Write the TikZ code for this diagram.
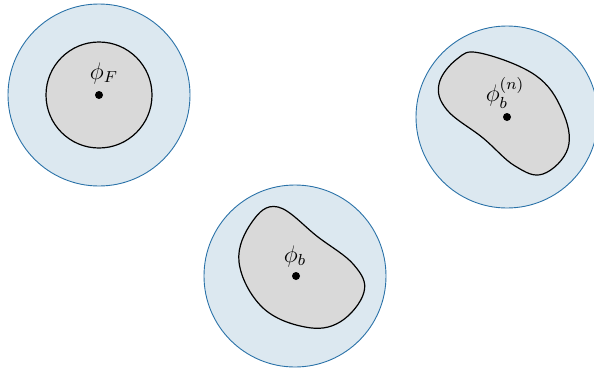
\documentclass[tikz,border=0pt]{standalone}
\usepackage{amsmath}
\usepackage{tikz}
\usetikzlibrary{positioning}
\usepackage{xcolor}
\definecolor{ballfill}{HTML}{DCE8F0}
\definecolor{balldraw}{HTML}{2A72A8}
\definecolor{setfill}{HTML}{D9D9D9}

\begin{document}
\begin{tikzpicture}[x=0.5pt, y=-0.5pt, every node/.style={font=\large}]
  \tikzstyle{ball} = [circle, minimum size=91pt, inner sep=0pt, draw=balldraw, fill=ballfill, line width=0.45pt]
  \tikzstyle{region} = [draw=black, fill=setfill, line width=0.6pt]
  \tikzstyle{centre} = [circle, fill=black, minimum size=4pt, inner sep=0pt]

  \useasboundingbox (0,0) rectangle (594,370);

  % outer balls
  \node (ballF) [ball] at (99,95) {};
  \node (ballB) [ball] at (295,276) {};
  \node (ballN) [ball] at (507,117) {};

  % inner sets
  \node (setF) [circle, minimum size=53pt, inner sep=0pt, region] at (99,95) {};
  \draw [region] plot [smooth cycle, tension=0.65] coordinates {(278,207) (318,237) (354,265) (364,292) (340,322) (305,327) (262,307) (239,262) (252,222)};
  \draw [region] plot [smooth cycle, tension=0.65] coordinates {(480,53) (535,75) (562,110) (568,148) (543,174) (515,166) (483,138) (447,110) (439,84) (457,59)};

  % centres
  \node (cF) [centre] at (99,95) {};
  \node (cB) [centre] at (296,276) {};
  \node (cN) [centre] at (507,117) {};

  % labels
  \node (labF) at (104,73) {$\phi_F$};
  \node (labB) at (295,256) {$\phi_b$};
  \node (labN) at (505,93) {$\phi_b^{(n)}$};
\end{tikzpicture}
\end{document}
